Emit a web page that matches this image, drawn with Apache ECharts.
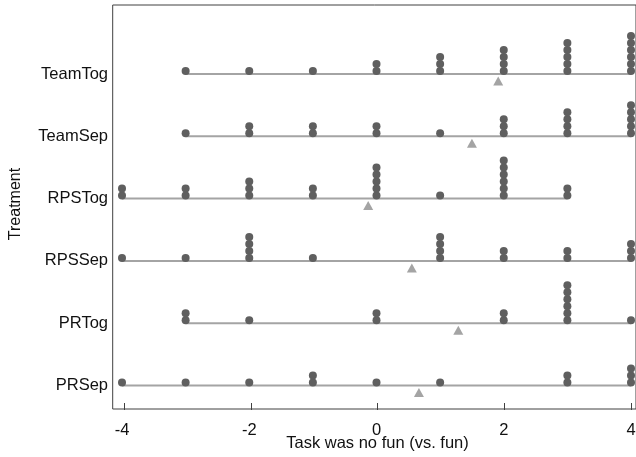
<!DOCTYPE html>
<html>
<head>
<meta charset="utf-8">
<script src="https://cdn.jsdelivr.net/npm/echarts@6/dist/echarts.min.js"></script>
<style>html,body{margin:0;padding:0;background:#fff}#c{width:636px;height:457px}</style>
</head>
<body>
<div id="c"></div>
<script>
// Categories bottom-to-top
const categories = ['PRSep', 'PRTog', 'RPSSep', 'RPSTog', 'TeamSep', 'TeamTog'];
// Score values on the x axis
const scores = [-4, -3, -2, -1, 0, 1, 2, 3, 4];
const xTicks = [-4, -2, 0, 2, 4];
// Number of participants at each score, per treatment
const PRSep   = [1, 1, 1, 2, 1, 1, 0, 2, 3];
const PRTog   = [0, 2, 1, 0, 2, 0, 2, 6, 1];
const RPSSep  = [1, 1, 4, 1, 0, 4, 2, 2, 3];
const RPSTog  = [2, 2, 3, 2, 5, 1, 6, 2, 0];
const TeamSep = [0, 1, 2, 2, 2, 1, 3, 4, 5];
const TeamTog = [0, 1, 1, 1, 2, 3, 4, 5, 6];
const countsByRow = [PRSep, PRTog, RPSSep, RPSTog, TeamSep, TeamTog];

const DOT_STEP = 7;
const FONT = 'Liberation Sans, Arial, Helvetica, sans-serif';

const dots = [];
const means = [];
const lineSeries = [];
countsByRow.forEach((counts, r) => {
  let sum = 0, n = 0, lo = null, hi = null;
  counts.forEach((c, i) => {
    const s = scores[i];
    if (c > 0) { if (lo === null) lo = s; hi = s; }
    for (let k = 0; k < c; k++) {
      dots.push({ value: [s, r], symbolOffset: [0, -3 - k * DOT_STEP] });
    }
    sum += s * c; n += c;
  });
  means.push([sum / n, r]);
  lineSeries.push({
    type: 'line', xAxisIndex: 2, yAxisIndex: 2,
    data: [[lo, r], [hi, r]], symbol: 'none', silent: true,
    lineStyle: { color: '#a4a4a4', width: 2 }, z: 1, animation: false
  });
});

const chart = echarts.init(document.getElementById('c'), null, { renderer: 'canvas' });
chart.setOption({
  animation: false,
  grid: [
    { left: 112.7, top: 5, right: -8, bottom: 48, show: true, borderColor: '#404040', borderWidth: 1, backgroundColor: 'transparent' },
    { left: 122, top: 5, right: 5, bottom: 48 },
    { left: 122, top: 42.8, right: 5, bottom: 40.3 },
    { left: 122, top: 5, right: 5, bottom: 48, outerBoundsMode: 'none' }
  ],
  xAxis: [
    { gridIndex: 0, type: 'value', show: false, min: 0, max: 1 },
    { gridIndex: 1, type: 'value', min: -4, max: 4, interval: 2,
      axisLine: { show: false }, splitLine: { show: false },
      axisTick: { show: true, length: 7, lineStyle: { color: '#404040', width: 1 } },
      axisLabel: { show: false },
      name: 'Task was no fun (vs. fun)', nameLocation: 'middle', nameGap: 32,
      nameTextStyle: { color: '#111', fontSize: 16.5, fontFamily: FONT } },
    { gridIndex: 2, type: 'value', min: -4, max: 4, show: false },
    { gridIndex: 3, type: 'value', min: -4, max: 4, interval: 2,
      axisLine: { show: false }, splitLine: { show: false }, axisTick: { show: false },
      axisLabel: { color: '#111', fontSize: 16.5, fontFamily: FONT, margin: 13 } }
  ],
  yAxis: [
    { gridIndex: 0, type: 'value', show: false, min: 0, max: 1 },
    { gridIndex: 1, type: 'value', min: 0, max: 1,
      axisLine: { show: false }, axisTick: { show: false }, axisLabel: { show: false }, splitLine: { show: false },
      name: 'Treatment', nameLocation: 'middle', nameGap: 100, nameRotate: 90,
      nameTextStyle: { color: '#111', fontSize: 16, fontFamily: FONT } },
    { gridIndex: 2, type: 'category', data: categories, boundaryGap: true,
      axisLine: { show: false }, axisTick: { show: false }, splitLine: { show: false },
      axisLabel: { color: '#111', fontSize: 16.5, fontFamily: FONT, margin: 14 } },
    { gridIndex: 3, type: 'value', show: false, min: 0, max: 1 }
  ],
  series: [
    ...lineSeries,
    { type: 'scatter', xAxisIndex: 2, yAxisIndex: 2, data: dots, symbol: 'circle', symbolSize: 8,
      itemStyle: { color: '#5f5f5f', opacity: 1 }, z: 3, silent: true },
    { type: 'scatter', xAxisIndex: 2, yAxisIndex: 2, data: means, symbol: 'triangle', symbolSize: [10, 9],
      symbolOffset: [0, 7], itemStyle: { color: '#a4a4a4', opacity: 1 }, z: 2, silent: true }
  ]
});
</script>
</body>
</html>
